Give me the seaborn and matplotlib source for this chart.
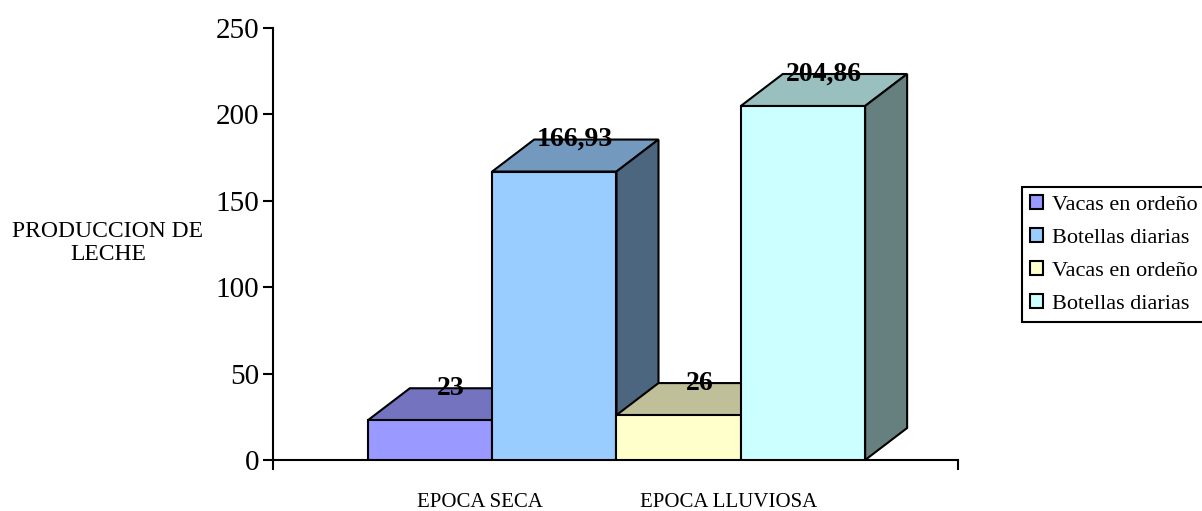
import numpy as np
import pandas as pd
import seaborn as sns
import matplotlib
matplotlib.use("Agg")
import matplotlib.pyplot as plt
from matplotlib.patches import Polygon, Patch
from matplotlib.colors import to_rgb

# ---- data ----
epocas = ["EPOCA SECA", "EPOCA SECA", "EPOCA LLUVIOSA", "EPOCA LLUVIOSA"]
series = ["Vacas en ordeño", "Botellas diarias", "Vacas en ordeño", "Botellas diarias"]
values = [23, 166.93, 26, 204.86]
value_labels = ["23", "166,93", "26", "204,86"]
group_labels = ["EPOCA SECA", "EPOCA LLUVIOSA"]
y_ticks = [0, 50, 100, 150, 200, 250]
colors = ["#9999FF", "#99CCFF", "#FFFFCC", "#CCFFFF"]
ylabel = "PRODUCCION DE\nLECHE"

sns.set_style("white")
plt.rcParams["font.family"] = ["Liberation Serif", "DejaVu Serif"]
plt.rcParams["text.color"] = "black"
plt.rcParams["xtick.color"] = "black"
plt.rcParams["ytick.color"] = "black"
plt.rcParams["xtick.labelcolor"] = "black"
plt.rcParams["ytick.labelcolor"] = "black"

W, H = 1202, 511
fig = plt.figure(figsize=(W / 100, H / 100), dpi=100)
ax_l, ax_r, ax_b, ax_t = 273, 958, 460, 28
ax = fig.add_axes([ax_l / W, 1 - ax_b / H, (ax_r - ax_l) / W, (ax_b - ax_t) / H])

df = pd.DataFrame({
    "bar": [f"{e}|{s}|{i}" for i, (e, s) in enumerate(zip(epocas, series))],
    "value": values,
})
sns.barplot(data=df, x="bar", y="value", hue="bar", palette=colors,
            width=1.0, saturation=1, edgecolor="black", linewidth=1.5,
            legend=False, ax=ax)

xlim = (-1.263, 4.247)
ylim = (0, 250)
ax.set_xlim(*xlim)
ax.set_ylim(*ylim)

# pixel depth offsets -> data units
dx_px, dy_px = 42, 32
dx = dx_px * (xlim[1] - xlim[0]) / (ax_r - ax_l)
dy = dy_px * (ylim[1] - ylim[0]) / (ax_b - ax_t)

bars = [c[0] for c in ax.containers]
for i, (bar, col, lab) in enumerate(zip(bars, colors, value_labels)):
    x0 = bar.get_x()
    x1 = x0 + bar.get_width()
    h = bar.get_height()
    rgb = np.array(to_rgb(col))
    top = Polygon([(x0, h), (x0 + dx, h + dy), (x1 + dx, h + dy), (x1, h)],
                  closed=True, facecolor=rgb * 0.75, edgecolor="black",
                  linewidth=1.5, zorder=10 + 3 * i, joinstyle="miter")
    side = Polygon([(x1, 0), (x1, h), (x1 + dx, h + dy), (x1 + dx, dy)],
                   closed=True, facecolor=rgb * 0.5, edgecolor="black",
                   linewidth=1.5, zorder=10 + 3 * i + 1, joinstyle="miter")
    ax.add_patch(top)
    ax.add_patch(side)
    bar.set_zorder(10 + 3 * i + 2)
    ax.text((x0 + x1) / 2 + dx / 2, h + dy, lab, ha="center", va="center",
            fontsize=20, fontweight="bold", color="black", zorder=30)

# axes styling
for s in ["top", "right"]:
    ax.spines[s].set_visible(False)
for s in ["left", "bottom"]:
    ax.spines[s].set_linewidth(1.5)
    ax.spines[s].set_color("black")
    ax.spines[s].set_zorder(5)

ax.set_yticks(y_ticks)
ax.tick_params(axis="y", direction="out", length=7, width=1.5, labelsize=21,
               pad=3, left=True, color="black", labelcolor="black")

centers = []
for k in range(len(group_labels)):
    b0, b1 = bars[2 * k], bars[2 * k + 1]
    centers.append((b0.get_x() + b1.get_x() + b1.get_width()) / 2 - 0.095)
ax.set_xticks(centers)
ax.set_xticklabels(group_labels)
ax.tick_params(axis="x", length=0, labelsize=15, pad=24, labelcolor="black")
ax.set_xticks([xlim[0], xlim[1]], minor=True)
ax.tick_params(axis="x", which="minor", direction="out", length=7, width=1.5,
               bottom=True, color="black")
ax.set_xlabel("")
ax.set_ylabel("")

fig.text(108 / W, 1 - 243 / H, ylabel, ha="center", va="center",
         fontsize=17, linespacing=1.07, color="black")

handles = [Patch(facecolor=c, edgecolor="black", linewidth=1.5) for c in colors]
leg = fig.legend(handles, series, loc="upper left",
                 bbox_to_anchor=(1022 / W, 1 - 187 / H),
                 bbox_transform=fig.transFigure, borderaxespad=0,
                 fontsize=16, handlelength=0.6, handleheight=0.6,
                 handletextpad=0.4, borderpad=0.36, labelspacing=0.59,
                 fancybox=False, framealpha=1, edgecolor="black")
leg.get_frame().set_linewidth(1.5)
for t in leg.get_texts():
    t.set_color("black")

fig.savefig("out.png", dpi=100)
